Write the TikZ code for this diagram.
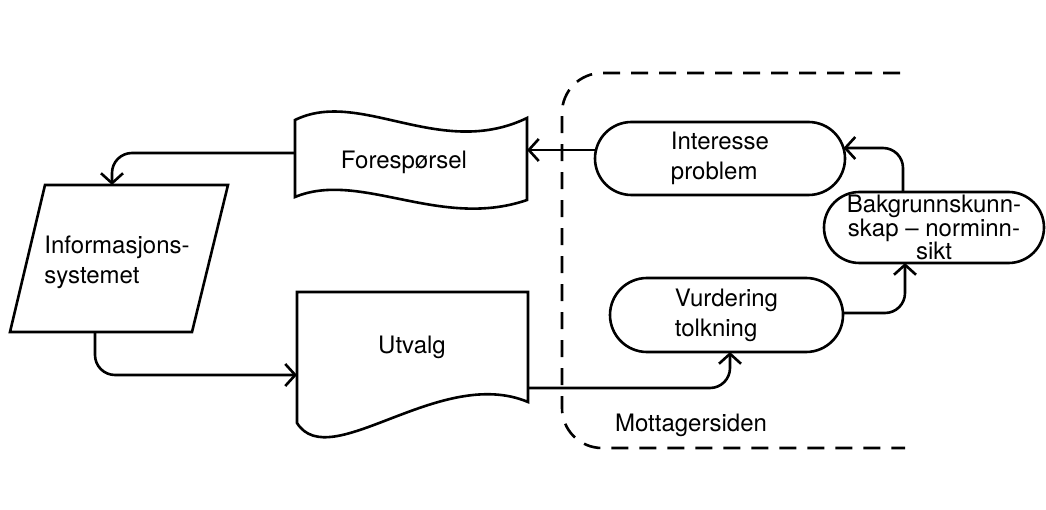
\documentclass[tikz,border=0pt]{standalone}
\usepackage{fontspec}
\setmainfont{TeX Gyre Heros}
\usetikzlibrary{arrows.meta,shapes.misc}
\begin{document}
\begin{tikzpicture}[x=1pt,y=-1pt,line width=2.6pt,
  lbl/.style={font=\fontsize{24}{30}\selectfont, align=left, inner sep=0pt},
  stad/.style={draw, rounded rectangle, inner sep=0pt, font=\fontsize{24}{30}\selectfont, align=left},
  conn/.style={rounded corners=20pt, -{Straight Barb[length=10pt,width=22pt]}},
  border/.style={dashed, dash pattern=on 17pt off 11pt, rounded corners=40pt}]
\useasboundingbox (0,0) rectangle (1046,510);
% Informasjonssystemet (parallelogram)
\draw (45,185) -- (228,185) -- (192,332) -- (10,332) -- cycle;
\node[lbl] (info) at (117,262) {Informasjons-\\systemet};
\coordinate (infoTop) at (112,185);
\coordinate (infoBot) at (95,332);
% Foresporsel (wavy)
\draw (295,120) .. controls (360,88) and (440,160) .. (527,118) -- (527,200)
      .. controls (440,230) and (360,170) .. (295,197) -- cycle;
\node[lbl] (fore) at (404,162) {Forespørsel};
\coordinate (foreW) at (295,153);
\coordinate (foreE) at (527,150);
% Utvalg (document)
\draw (297,292) -- (528,292) -- (528,402)
      .. controls (440,365) and (330,475) .. (297,423) -- cycle;
\node[lbl] (utv) at (412,347) {Utvalg};
\coordinate (utvW) at (297,375);
\coordinate (utvE) at (528,388);
% receiver side
\node[stad, minimum width=250pt, minimum height=73pt] (int) at (720,158.5) {Interesse\\problem};
\node[stad, minimum width=233pt, minimum height=74pt] (vur) at (726.5,315) {Vurdering\\tolkning};
\node[stad, minimum width=220pt, minimum height=71pt, align=center,
      font=\fontsize{24}{22}\selectfont] (bak) at (934,227.5) {Bakgrunnskunn-\\skap -- norminn-\\sikt};
\node[lbl] (mot) at (691,425) {Mottagersiden};
\coordinate (intW) at (596,150);
\coordinate (intE) at (843.5,148);
\coordinate (vurS) at (730,352);
\coordinate (vurE) at (843,313);
\coordinate (bakS) at (905,263);
\coordinate (bakN) at (903,192);
% dashed boundary
\draw[border] (900,73) -- (562,73) -- (562,448) -- (905,448);
% connectors
\draw[conn] (foreW) -| (infoTop);
\draw[conn] (infoBot) |- (utvW);
\draw[conn] (intW) -- (foreE);
\draw[conn] (utvE) -| (vurS);
\draw[conn] (vurE) -| (bakS);
\draw[conn] (bakN) |- (intE);
\end{tikzpicture}
\end{document}
